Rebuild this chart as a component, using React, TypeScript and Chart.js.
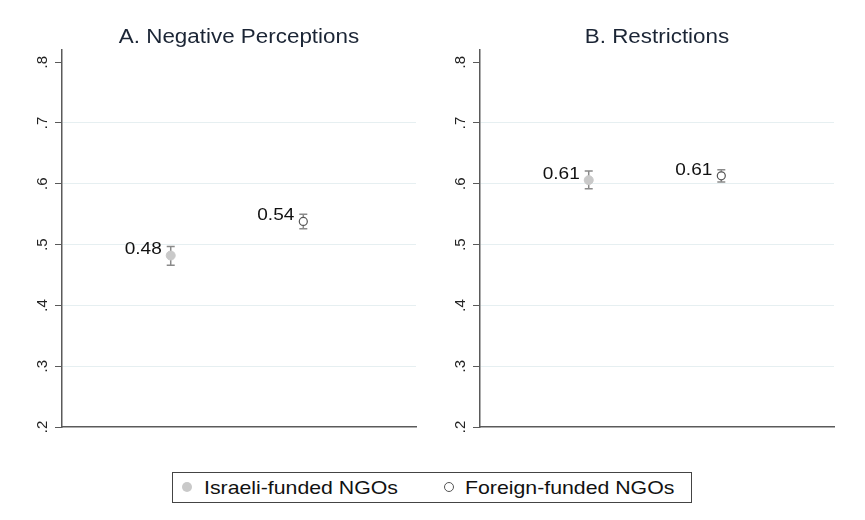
import React, { useEffect, useRef } from "react";
import { Chart, registerables } from "chart.js";

Chart.register(...registerables);

const panelTitles = ["A. Negative Perceptions", "B. Restrictions"];
const groupNames = ["Israeli-funded NGOs", "Foreign-funded NGOs"];
const groupX = [1, 2];

const israeliMean = [0.482, 0.606];
const israeliLow = [0.466, 0.592];
const israeliHigh = [0.497, 0.621];
const israeliLabels = ["0.48", "0.61"];

const foreignMean = [0.538, 0.613];
const foreignLow = [0.526, 0.603];
const foreignHigh = [0.55, 0.623];
const foreignLabels = ["0.54", "0.61"];

const yTicks = [0.2, 0.3, 0.4, 0.5, 0.6, 0.7, 0.8];
const yTickLabels = [".2", ".3", ".4", ".5", ".6", ".7", ".8"];

// the reference graph is a little stretched sideways
const STRETCH = 1.12;

function drawStretched(ctx: CanvasRenderingContext2D, text: string, x: number, y: number, align: "left" | "center" | "right") {
  const w = ctx.measureText(text).width * STRETCH;
  const x0 = align === "left" ? x : align === "center" ? x - w / 2 : x - w;
  ctx.save();
  ctx.translate(x0, y);
  ctx.scale(STRETCH, 1);
  ctx.textAlign = "left";
  ctx.fillText(text, 0, 0);
  ctx.restore();
}

function Panel(props: { index: number; left: number; width: number; axisWidth: number; padRight: number }): React.ReactElement {
  const canvasRef = useRef<HTMLCanvasElement | null>(null);
  const i = props.index;

  useEffect(() => {
    if (!canvasRef.current) return;
    const ctx = canvasRef.current.getContext("2d");
    if (!ctx) return;

    const series = [
      { x: groupX[0], mean: israeliMean[i], low: israeliLow[i], high: israeliHigh[i], label: israeliLabels[i] },
      { x: groupX[1], mean: foreignMean[i], low: foreignLow[i], high: foreignHigh[i], label: foreignLabels[i] },
    ];

    const decor = {
      id: "decor",
      beforeDatasetsDraw(chart: Chart) {
        const c = chart.ctx;
        const xs = chart.scales.x;
        const ys = chart.scales.y;
        const area = chart.chartArea;

        // title
        c.save();
        c.fillStyle = "#1b2535";
        c.font = "20px Arial, 'Liberation Sans', sans-serif";
        c.textBaseline = "middle";
        drawStretched(c, panelTitles[i], (area.left + area.right) / 2, 37, "center");
        c.restore();

        // rotated y tick labels
        c.save();
        c.fillStyle = "#222";
        c.font = "15px Arial, 'Liberation Sans', sans-serif";
        c.textAlign = "center";
        c.textBaseline = "middle";
        yTicks.forEach((v, k) => {
          const py = ys.getPixelForValue(v);
          c.save();
          c.translate(area.left - 19, py);
          c.rotate(-Math.PI / 2);
          c.fillText(yTickLabels[k], 0, 0);
          c.restore();
        });
        c.restore();

        // error bars
        c.save();
        c.strokeStyle = "#8a8a8a";
        c.lineWidth = 1.5;
        series.forEach((s) => {
          const px = xs.getPixelForValue(s.x);
          const top = ys.getPixelForValue(s.high);
          const bot = ys.getPixelForValue(s.low);
          c.beginPath();
          c.moveTo(px, top);
          c.lineTo(px, bot);
          c.moveTo(px - 4, top);
          c.lineTo(px + 4, top);
          c.moveTo(px - 4, bot);
          c.lineTo(px + 4, bot);
          c.stroke();
        });
        c.restore();
      },
      afterDatasetsDraw(chart: Chart) {
        const c = chart.ctx;
        const xs = chart.scales.x;
        const ys = chart.scales.y;
        c.save();
        c.fillStyle = "#111";
        c.font = "17px Arial, 'Liberation Sans', sans-serif";
        c.textBaseline = "middle";
        series.forEach((s) => {
          const px = xs.getPixelForValue(s.x);
          const py = ys.getPixelForValue(s.mean);
          drawStretched(c, s.label, px - 9, py - 6, "right");
        });
        c.restore();
      },
    };

    const chart = new Chart(ctx, {
      type: "scatter",
      data: {
        datasets: [
          {
            label: groupNames[0],
            data: [{ x: groupX[0], y: israeliMean[i] }],
            pointStyle: "circle",
            pointRadius: 4.5,
            backgroundColor: "#c9c9c9",
            borderColor: "#c9c9c9",
            borderWidth: 1,
          },
          {
            label: groupNames[1],
            data: [{ x: groupX[1], y: foreignMean[i] }],
            pointStyle: "circle",
            pointRadius: 4,
            backgroundColor: "#ffffff",
            borderColor: "#555555",
            borderWidth: 1.2,
          },
        ],
      },
      options: {
        responsive: false,
        animation: false,
        layout: { padding: { top: 50, right: props.padRight, bottom: 18, left: 0 } },
        plugins: {
          legend: { display: false },
          tooltip: { enabled: false },
          title: { display: false },
        },
        scales: {
          x: {
            type: "linear",
            min: 0.18,
            max: 2.85,
            ticks: { display: false },
            grid: { display: false, drawTicks: false },
            border: { display: true, color: "#5a5a5a", width: 1.5 },
          },
          y: {
            type: "linear",
            min: 0.2,
            max: 0.82,
            afterBuildTicks: (scale) => {
              scale.ticks = yTicks.map((v) => ({ value: v }));
            },
            afterFit: (scale) => {
              scale.width = props.axisWidth;
            },
            ticks: { display: false },
            grid: {
              color: (c) => {
                const v = c.tick ? c.tick.value : 0;
                return v < 0.25 || v > 0.75 ? "rgba(0,0,0,0)" : "#e6eff1";
              },
              tickColor: "#5a5a5a",
              tickLength: 7,
              lineWidth: 1,
            },
            border: { display: true, color: "#5a5a5a", width: 1.5 },
          },
        },
      },
      plugins: [decor],
    });

    return () => {
      chart.destroy();
    };
  }, [i, props.axisWidth, props.padRight]);

  return (
    <canvas
      ref={canvasRef}
      width={props.width}
      height={445}
      style={{ position: "absolute", left: props.left, top: 0, width: props.width, height: 445 }}
    />
  );
}

function Legend(): React.ReactElement {
  const text: React.CSSProperties = {
    position: "absolute",
    top: 3,
    fontSize: 19,
    lineHeight: "23px",
    color: "#111",
    transform: `scaleX(${STRETCH})`,
    transformOrigin: "left center",
    whiteSpace: "nowrap",
  };
  return (
    <div
      style={{
        position: "absolute",
        left: 172,
        top: 472,
        width: 520,
        height: 31,
        boxSizing: "border-box",
        border: "1px solid #444",
        fontFamily: "Arial, 'Liberation Sans', sans-serif",
      }}
    >
      <span
        style={{ position: "absolute", left: 9, top: 9, width: 10, height: 10, borderRadius: "50%", background: "#c9c9c9" }}
      />
      <span style={{ ...text, left: 31 }}>{groupNames[0]}</span>
      <span
        style={{
          position: "absolute",
          left: 271,
          top: 9,
          width: 10,
          height: 10,
          boxSizing: "border-box",
          borderRadius: "50%",
          border: "1.3px solid #555",
          background: "#fff",
        }}
      />
      <span style={{ ...text, left: 292 }}>{groupNames[1]}</span>
    </div>
  );
}

export default function App(): React.ReactElement {
  return (
    <div style={{ position: "absolute", left: 0, top: 0, width: 865, height: 520, background: "#fff", overflow: "hidden" }}>
      <Panel index={0} left={0} width={432} axisWidth={62} padRight={16} />
      <Panel index={1} left={432} width={433} axisWidth={48} padRight={31} />
      <Legend />
    </div>
  );
}
